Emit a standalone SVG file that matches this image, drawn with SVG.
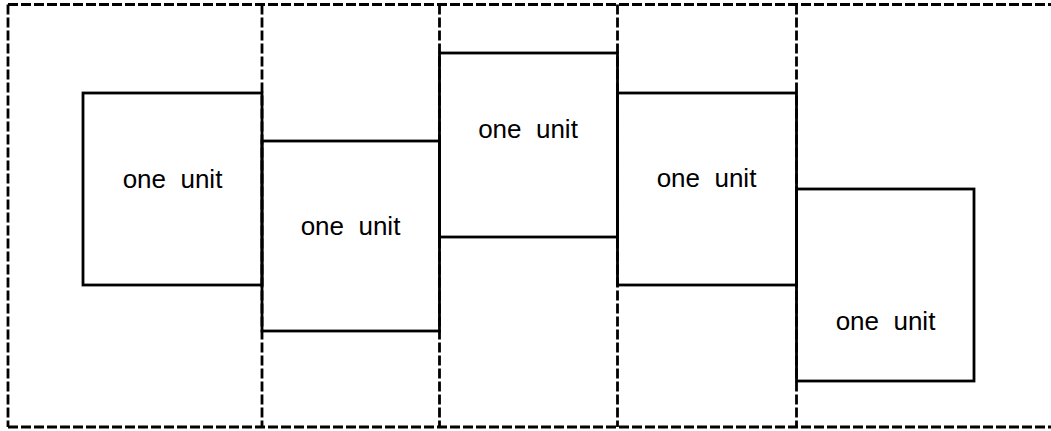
<svg xmlns="http://www.w3.org/2000/svg" width="1051" height="431" viewBox="0 0 1051 431">
<style>
.dash{fill:none;stroke:#000;stroke-width:2.8;stroke-dasharray:10 3}
.box{fill:none;stroke:#000;stroke-width:2.8}
.lbl{font-family:"Liberation Sans",Arial,sans-serif;font-size:26px;fill:#000;text-anchor:middle;white-space:pre}
</style>
<rect width="1051" height="431" fill="#fff"/>
<g id="grid">
<line class="dash" x1="8" y1="4.5" x2="1051" y2="4.5"/>
<line class="dash" x1="8" y1="427" x2="1051" y2="427"/>
<line class="dash" x1="8" y1="4.5" x2="8" y2="427"/>
<line class="dash" x1="262" y1="4.5" x2="262" y2="427"/>
<line class="dash" x1="439.5" y1="4.5" x2="439.5" y2="427"/>
<line class="dash" x1="617.5" y1="4.5" x2="617.5" y2="427"/>
<line class="dash" x1="796.5" y1="4.5" x2="796.5" y2="427"/>
</g>
<g id="unit1"><rect class="box" x="83" y="93" width="179" height="192"/><text class="lbl" x="172.5" y="188" xml:space="preserve">one  unit</text></g>
<g id="unit2"><rect class="box" x="262" y="141" width="177.5" height="190"/><text class="lbl" x="350.5" y="235" xml:space="preserve">one  unit</text></g>
<g id="unit3"><rect class="box" x="439.5" y="53" width="178" height="184"/><text class="lbl" x="528" y="138" xml:space="preserve">one  unit</text></g>
<g id="unit4"><rect class="box" x="617.5" y="93" width="179" height="192"/><text class="lbl" x="706.5" y="187" xml:space="preserve">one  unit</text></g>
<g id="unit5"><rect class="box" x="796.5" y="189" width="177.5" height="192"/><text class="lbl" x="885.5" y="330" xml:space="preserve">one  unit</text></g>
</svg>
